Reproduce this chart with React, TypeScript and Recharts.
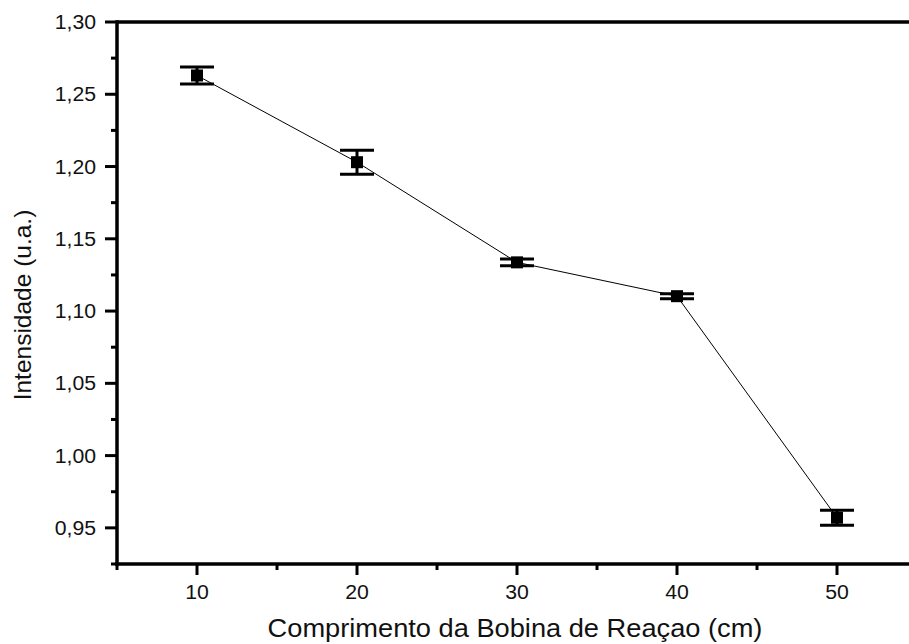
import type { FC } from "react";
import { ErrorBar, Label, Line, LineChart, ReferenceLine, XAxis, YAxis } from "recharts";

// Comprimento da bobina (cm), intensidade média e desvio
const coilLengths = [10, 20, 30, 40, 50];
const intensities = [1.263, 1.203, 1.1337, 1.1103, 0.957];
const deviations = [0.0059, 0.0083, 0.0024, 0.0017, 0.0052];

const xMajorTicks = [10, 20, 30, 40, 50];
const xMinorTicks = [5, 15, 25, 35, 45, 55];
const yMajorTicks = [0.95, 1.0, 1.05, 1.1, 1.15, 1.2, 1.25, 1.3];
const yMinorTicks = [0.925, 0.975, 1.025, 1.075, 1.125, 1.175, 1.225, 1.275];

const xTicks = [...xMajorTicks, ...xMinorTicks].sort((a, b) => a - b);
const yTicks = [...yMajorTicks, ...yMinorTicks].sort((a, b) => a - b);

const data = coilLengths.map((x, i) => ({ x, y: intensities[i], err: deviations[i] }));

const FONT = "'Liberation Sans', Arial, sans-serif";
const STRETCH = 1.09;

const isMajor = (list: number[], v: number) => list.some((t) => Math.abs(t - v) < 1e-6);

const XTick: FC<any> = ({ x, y, payload }) => {
  const major = isMajor(xMajorTicks, payload.value);
  return (
    <g>
      <line x1={x} y1={y} x2={x} y2={y + (major ? 11 : 6)} stroke="#000" strokeWidth={3} />
      {major && (
        <text
          transform={`translate(${x},${y + 35}) scale(${STRETCH},1)`}
          textAnchor="middle"
          fontFamily={FONT}
          fontSize={19.5}
          fill="#111"
        >
          {payload.value}
        </text>
      )}
    </g>
  );
};

const YTick: FC<any> = ({ x, y, payload }) => {
  const major = isMajor(yMajorTicks, payload.value);
  return (
    <g>
      <line x1={x} y1={y} x2={x - (major ? 12 : 6)} y2={y} stroke="#000" strokeWidth={3} />
      {major && (
        <text
          transform={`translate(${x - 21},${y + 7}) scale(${STRETCH},1)`}
          textAnchor="end"
          fontFamily={FONT}
          fontSize={19.5}
          fill="#111"
        >
          {payload.value.toFixed(2).replace(".", ",")}
        </text>
      )}
    </g>
  );
};

const SquareDot: FC<any> = ({ cx, cy, index }) => (
  <rect key={`dot-${index}`} x={cx - 6} y={cy - 6} width={12} height={12} fill="#000" />
);

const axisLine = { stroke: "#000", strokeWidth: 3.5, strokeLinecap: "square" as const };

export default function App() {
  return (
    <div style={{ position: "absolute", left: 0, top: 0, width: 909, height: 644, overflow: "hidden", background: "#fff" }}>
      <LineChart width={930} height={644} data={data} margin={{ top: 22, right: 13, bottom: 0, left: 0 }}>
        <XAxis
          dataKey="x"
          type="number"
          domain={[5, 55]}
          ticks={xTicks}
          interval={0}
          allowDataOverflow
          height={80}
          axisLine={axisLine}
          tickLine={false}
          tickSize={0}
          tickMargin={0}
          tick={<XTick />}
        >
          <Label
            content={({ viewBox }: any) => (
              <text
                transform={`translate(${viewBox.x + viewBox.width / 2 - 2},${viewBox.y + 73}) scale(${STRETCH},1)`}
                textAnchor="middle"
                fontFamily={FONT}
                fontSize={25}
                fill="#111"
              >
                Comprimento da Bobina de Reaçao (cm)
              </text>
            )}
          />
        </XAxis>
        <YAxis
          type="number"
          domain={[0.925, 1.3]}
          ticks={yTicks}
          interval={0}
          allowDataOverflow
          width={117}
          axisLine={axisLine}
          tickLine={false}
          tickSize={0}
          tickMargin={0}
          tick={<YTick />}
        >
          <Label
            content={() => (
              <text
                transform="translate(31,305) rotate(-90)"
                textAnchor="middle"
                fontFamily={FONT}
                fontSize={24.5}
                fill="#111"
              >
                Intensidade (u.a.)
              </text>
            )}
          />
        </YAxis>
        <ReferenceLine y={1.3} stroke="#000" strokeWidth={3.5} />
        <ReferenceLine x={55} stroke="#000" strokeWidth={3.5} />
        <Line
          dataKey="y"
          stroke="#000"
          strokeWidth={1}
          dot={<SquareDot />}
          activeDot={false}
          isAnimationActive={false}
        >
          <ErrorBar dataKey="err" direction="y" width={17} stroke="#000" strokeWidth={3} isAnimationActive={false} />
        </Line>
      </LineChart>
    </div>
  );
}
